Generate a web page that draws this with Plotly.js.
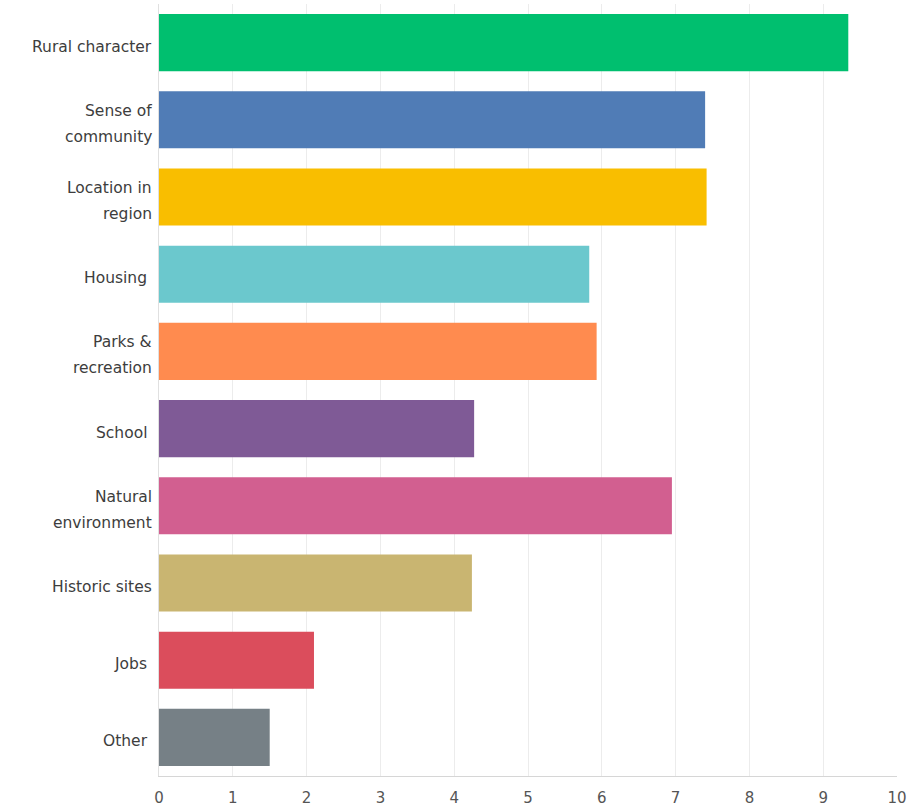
<!DOCTYPE html>
<html>
<head>
<meta charset="utf-8">
<script src="https://cdn.plot.ly/plotly-3.0.1.min.js"></script>
<style>html,body{margin:0;padding:0;background:#fff;}#chart{width:916px;height:810px;}</style>
</head>
<body>
<div id="chart"></div>
<script>
const categories = ["Rural character", "Sense of<br>community", "Location in<br>region", "Housing ", "Parks &<br>recreation", "School ", "Natural<br>environment", "Historic sites", "Jobs ", "Other "];
const values = [9.34, 7.40, 7.42, 5.83, 5.93, 4.27, 6.95, 4.24, 2.10, 1.50];
const colors = ["#00BF6F", "#507CB6", "#F9BE00", "#6BC8CD", "#FF8B4F", "#7F5A96", "#D25F90", "#C9B571", "#DB4D5C", "#768086"];
const xTicks = [0, 1, 2, 3, 4, 5, 6, 7, 8, 9, 10];

const FONT = "DejaVu Sans, Open Sans, sans-serif";
const LINE_GAP = 26;

// Category labels drawn as annotations so the line spacing can match
const annotations = [];
categories.forEach((cat, i) => {
  const lines = cat.split("<br>");
  const n = lines.length;
  lines.forEach((ln, j) => {
    annotations.push({
      xref: "paper", x: 0, yref: "y", y: i,
      text: ln, showarrow: false,
      xanchor: "right", yanchor: "middle",
      xshift: -5, yshift: ((n - 1) / 2 - j) * LINE_GAP - 4,
      font: {family: FONT, size: 15.5, color: "#3d3d3d"}
    });
  });
});

Plotly.newPlot("chart", [{
  type: "bar",
  orientation: "h",
  y: categories.map((c, i) => i),
  x: values,
  width: 0.74,
  marker: {color: colors, line: {width: 0}},
  hoverinfo: "x"
}], {
  width: 916, height: 810,
  margin: {l: 159, r: 19, t: 4, b: 34, pad: 0},
  paper_bgcolor: "#fff", plot_bgcolor: "#fff",
  showlegend: false,
  font: {family: FONT, color: "#333"},
  xaxis: {
    range: [0, 10], tickvals: xTicks, ticktext: xTicks.map(String),
    showgrid: true, gridcolor: "#ececec", gridwidth: 1,
    zeroline: false, showline: true, linecolor: "#d6d6d6", linewidth: 1,
    ticks: "", tickfont: {family: FONT, size: 15, color: "#555"}, ticklabelstandoff: 8,
    fixedrange: true
  },
  yaxis: {
    type: "linear", autorange: false, range: [9.5, -0.5],
    showgrid: false, zeroline: false, showline: true, linecolor: "#e0e0e0", linewidth: 1,
    showticklabels: false, ticks: "",
    fixedrange: true
  },
  annotations: annotations
}, {displayModeBar: false, staticPlot: true});
</script>
</body>
</html>
